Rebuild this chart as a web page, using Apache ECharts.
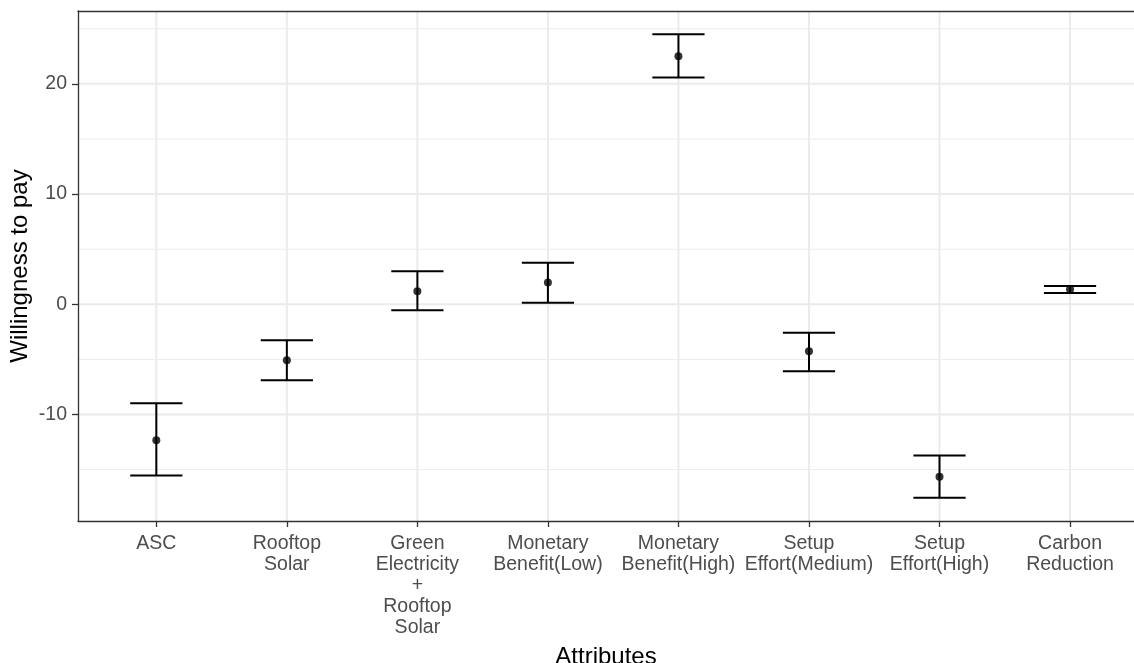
<!DOCTYPE html>
<html>
<head>
<meta charset="utf-8">
<script src="https://cdn.jsdelivr.net/npm/echarts@6/dist/echarts.min.js"></script>
<style>html,body{margin:0;padding:0;background:#fff}#c{width:1134px;height:663px}</style>
</head>
<body>
<div id="c"></div>
<script>
const categories = ['ASC', 'Rooftop\nSolar', 'Green\nElectricity\n+\nRooftop\nSolar', 'Monetary\nBenefit(Low)', 'Monetary\nBenefit(High)', 'Setup\nEffort(Medium)', 'Setup\nEffort(High)', 'Carbon\nReduction'];
const estimate = [-12.33, -5.08, 1.18, 1.97, 22.51, -4.26, -15.65, 1.36];
const lower = [-15.53, -6.89, -0.54, 0.15, 20.58, -6.07, -17.56, 1.03];
const upper = [-8.98, -3.26, 2.99, 3.78, 24.51, -2.57, -13.72, 1.66];
const yTicks = [-10, 0, 10, 20];
const yMinorTicks = [-15, -5, 5, 15, 25];

const xPositions = categories.map((c, i) => i + 1);
const FONT = 'Liberation Sans';

const chart = echarts.init(document.getElementById('c'), null, {renderer: 'canvas'});
const barData = categories.map((c, i) => [i + 1, lower[i], upper[i]]);
const ptData = categories.map((c, i) => [i + 1, estimate[i]]);

// grid lines: [kind, value, width]
const gridData = [].concat(
  yMinorTicks.map(v => ['h', v, 1]),
  yTicks.map(v => ['h', v, 2]),
  xPositions.map(v => ['v', v, 2])
);

chart.setOption({
  animation: false,
  backgroundColor: '#fff',
  grid: {left: 78, top: 11, right: 0, bottom: 142, show: false, outerBoundsMode: 'none', containLabel: false},
  xAxis: [{
    type: 'value', min: 0.4, max: 8.49,
    name: 'Attributes', nameLocation: 'middle', nameGap: 124, nameMoveOverlap: false,
    nameTextStyle: {color: '#000', fontSize: 24, fontFamily: FONT},
    axisLine: {show: true, onZero: false, lineStyle: {color: '#333', width: 1.3}},
    axisTick: {show: true, length: 6, customValues: xPositions, lineStyle: {color: '#333', width: 1.3}},
    axisLabel: {
      color: '#4D4D4D', fontSize: 19.5, lineHeight: 21, fontFamily: FONT, margin: 12,
      customValues: xPositions,
      formatter: v => categories[Math.round(v) - 1] || ''
    },
    splitLine: {show: false}
  }, {
    type: 'value', min: 0.4, max: 8.49, position: 'top',
    axisLine: {show: true, onZero: false, lineStyle: {color: '#333', width: 1.3}},
    axisTick: {show: false}, axisLabel: {show: false}, splitLine: {show: false}
  }],
  yAxis: {
    type: 'value', min: -19.66, max: 26.61,
    name: 'Willingness to pay', nameLocation: 'middle', nameGap: 46, nameRotate: 90, nameMoveOverlap: false,
    nameTextStyle: {color: '#000', fontSize: 24, fontFamily: FONT},
    axisLine: {show: true, onZero: false, lineStyle: {color: '#333', width: 1.3}},
    axisTick: {show: true, length: 6, customValues: yTicks, lineStyle: {color: '#333', width: 1.3}},
    axisLabel: {
      color: '#4D4D4D', fontSize: 19.5, fontFamily: FONT, margin: 11,
      customValues: yTicks,
      formatter: v => String(Math.round(v))
    },
    splitLine: {show: false}
  },
  series: [
    {
      type: 'custom', data: gridData, z: 0, silent: true,
      encode: {x: -1, y: -1},
      renderItem: function (params, api) {
        const cs = params.coordSys;
        const kind = gridData[params.dataIndex][0];
        const v = gridData[params.dataIndex][1];
        const w = gridData[params.dataIndex][2];
        let shape;
        if (kind === 'h') {
          const y = api.coord([1, v])[1];
          shape = {x1: cs.x, y1: y, x2: cs.x + cs.width, y2: y};
        } else {
          const x = api.coord([v, 0])[0];
          shape = {x1: x, y1: cs.y, x2: x, y2: cs.y + cs.height};
        }
        return {type: 'line', shape: shape, style: {stroke: '#EBEBEB', lineWidth: w}};
      }
    },
    {
      type: 'custom',
      data: barData,
      encode: {x: 0, y: [1, 2]},
      renderItem: function (params, api) {
        const x = api.value(0);
        const lo = api.coord([x, api.value(1)]);
        const hi = api.coord([x, api.value(2)]);
        const half = api.size([0.4, 0])[0] / 2;
        const style = {stroke: '#000', lineWidth: 2};
        return {
          type: 'group',
          children: [
            {type: 'line', shape: {x1: lo[0], y1: lo[1], x2: hi[0], y2: hi[1]}, style: style},
            {type: 'line', shape: {x1: lo[0] - half, y1: lo[1], x2: lo[0] + half, y2: lo[1]}, style: style},
            {type: 'line', shape: {x1: hi[0] - half, y1: hi[1], x2: hi[0] + half, y2: hi[1]}, style: style}
          ]
        };
      },
      z: 5
    },
    {
      type: 'scatter', data: ptData, symbol: 'circle', symbolSize: 8,
      itemStyle: {color: '#000'}, z: 6
    }
  ]
});
</script>
</body>
</html>
